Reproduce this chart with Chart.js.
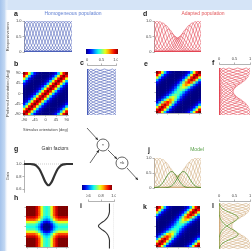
<!DOCTYPE html>
<html>
<head>
<meta charset="utf-8">
<script src="https://cdn.jsdelivr.net/npm/chart.js@4.4.0/dist/chart.umd.min.js"></script>
<style>
body{margin:0;width:252px;height:251px;overflow:hidden;background:#fff;position:relative}
canvas{position:absolute}
</style>
</head>
<body>
<canvas id="deco" width="252" height="251" style="left:0;top:0"></canvas>
<script>
// orientation grid (deg), 11.25 deg steps
const stimDeg = [-90,-78.75,-67.5,-56.25,-45,-33.75,-22.5,-11.25,0,11.25,22.5,33.75,45,56.25,67.5,78.75,90];
const prefDeg = [-90,-78.75,-67.5,-56.25,-45,-33.75,-22.5,-11.25,0,11.25,22.5,33.75,45,56.25,67.5,78.75];
// response vs |pref - stim| (0, 11.25, 22.5 ... 90 deg)
const tuningProfile = [1, 0.88, 0.6, 0.32, 0.13, 0.045, 0.012, 0.003, 0];
// peak gain of each neuron (indexed like stimDeg)
const homogGain = [1,1,1,1,1,1,1,1,1,1,1,1,1,1,1,1,1];
const adaptGain = [1,1,0.98,0.94,0.86,0.74,0.6,0.5,0.46,0.5,0.6,0.74,0.86,0.94,0.98,1,1];
const modelGain = [1,1,0.99,0.95,0.85,0.7,0.55,0.45,0.42,0.45,0.55,0.7,0.85,0.95,0.99,1,1];
const gainFactors = [1,1,1,0.995,0.975,0.92,0.82,0.71,0.66,0.71,0.82,0.92,0.975,0.995,1,1,1];
const hGain = [1,1,1,1,0.97,0.92,0.84,0.78,0.76,0.78,0.84,0.92,0.97,1,1,1,1];
const iCurve = [0.93,0.93,0.93,0.93,0.92,0.9,0.86,0.8,0.76,0.8,0.86,0.9,0.92,0.93,0.93,0.93,0.93];
const modelHighlight = [6, 10];

const degTicks = [-90,-45,0,45,90];
const degLabels = ['-90','-45','0','45','90'];

Chart.defaults.font.family = '"Liberation Sans", Arial, sans-serif';
Chart.defaults.font.size = 4;
Chart.defaults.color = '#444';

function jet(v, lo, hi) {
  const t = Math.min(1, Math.max(0, (v - lo) / (hi - lo)));
  const f = k => Math.round(255 * Math.min(1, Math.max(0, 1.5 - Math.abs(4 * t - k))));
  return 'rgb(' + f(3) + ',' + f(2) + ',' + f(1) + ')';
}

function resp(p, s) {
  const d = ((p - s) % 180 + 270) % 180 - 90;
  return tuningProfile[Math.round(Math.abs(d) / 11.25)];
}

function scale(o) {
  const vis = !!o.labels || !!o.marks;
  return {
    type: 'linear', position: o.pos, min: o.min, max: o.max,
    afterFit: sc => {
      if (sc.isHorizontal()) sc.height = o.size; else sc.width = o.size;
      sc.paddingLeft = sc.paddingRight = sc.paddingTop = sc.paddingBottom = 0;
    },
    afterBuildTicks: sc => { sc.ticks = (o.ticks || [o.min, o.max]).map(v => ({value: v})); },
    ticks: { display: !!o.labels, autoSkip: false, maxRotation: 0, padding: 1,
      callback: (v, i) => o.labels ? o.labels[i] : '' },
    grid: { display: vis, drawOnChartArea: false, tickLength: 1.5, color: '#666', lineWidth: 0.5 },
    border: { display: vis, color: '#666', width: 0.5 },
    title: { display: !!o.title, text: o.title, padding: 0, font: {size: 4} }
  };
}

function mk(box, m, datasets, xs, ys) {
  const [x0, y0, x1, y1] = box, [l, t, r, b] = m;
  const cv = document.createElement('canvas');
  cv.width = x1 - x0 + l + r; cv.height = y1 - y0 + t + b;
  cv.style.width = cv.width + 'px'; cv.style.height = cv.height + 'px';
  cv.style.left = (x0 - l) + 'px'; cv.style.top = (y0 - t) + 'px';
  document.body.appendChild(cv);
  const xTop = xs.pos === 'top';
  xs.size = xTop ? t : b; ys.size = l;
  return new Chart(cv, {
    type: 'scatter',
    data: { datasets },
    options: {
      responsive: false, animation: false, devicePixelRatio: 1, events: [],
      layout: { padding: { left: 0, right: r, top: xTop ? 0 : t, bottom: xTop ? b : 0 } },
      plugins: { legend: {display: false}, tooltip: {enabled: false} },
      scales: { x: scale(xs), y: scale(ys) }
    }
  });
}

function line(data, color, w, mono) {
  return { data, showLine: true, pointRadius: 0, borderColor: color, borderWidth: w,
    tension: 0.4, cubicInterpolationMode: mono ? 'monotone' : 'default' };
}

// tuning curves vs stimulus orientation
function tuningSets(gain, color, hl, hlColor) {
  const sets = prefDeg.map((p, i) => line(stimDeg.map(s => ({x: s, y: gain[i] * resp(p, s)})),
    hl && hl.includes(i) ? hlColor : color, hl && hl.includes(i) ? 0.9 : 0.55, true));
  return sets.sort((a, b) => (b.borderColor === hlColor) - (a.borderColor === hlColor));
}
// population responses vs preferred orientation (rotated)
function popSets(gain, color, hl, hlColor) {
  const sets = prefDeg.map((s, i) => line(stimDeg.map((p, pi) => ({x: gain[pi] * resp(p, s), y: p})),
    hl && hl.includes(i) ? hlColor : color, hl && hl.includes(i) ? 0.9 : 0.55, false));
  return sets.sort((a, b) => (b.borderColor === hlColor) - (a.borderColor === hlColor));
}
function heat(valFn, lo, hi) {
  const data = stimDeg.flatMap((p, pi) => stimDeg.map((s, si) => ({x: s, y: p, v: valFn(pi, si)})));
  return [{ data, pointStyle: 'rect', pointRadius: 2.25, borderWidth: 0,
    backgroundColor: c => jet(c.raw ? c.raw.v : 0, lo, hi) }];
}

const ax = {min: -90, max: 90};
const hx = {min: -95.625, max: 95.625};
const respTicks = {ticks: [0, 0.5, 1]};

// a
mk([24,21,72,52], [19,3,1,2], tuningSets(homogGain, '#3d52b4'),
  {pos: 'bottom', ...ax}, {pos: 'left', min: 0, max: 1, ...respTicks, labels: ['0','0.5','1.0'], title: 'Responsiveness'});
// b
mk([23,69,71,115], [18,1,1,17], heat((pi, si) => homogGain[pi] * resp(stimDeg[pi], stimDeg[si]), 0, 1),
  {pos: 'bottom', ...hx, ticks: degTicks, labels: degLabels, title: 'Stimulus orientation (deg)'},
  {pos: 'left', ...hx, ticks: degTicks, labels: degLabels, title: 'Preferred orientation (deg)'});
// c
mk([87,65,116,115], [1,8,2,1], popSets(homogGain, '#3d52b4'),
  {pos: 'top', min: 0, max: 1, ...respTicks, labels: ['0','0.5','1.0']}, {pos: 'left', min: -90, max: 105.65});
// d
mk([154,21,201,52], [14,3,1,2], tuningSets(adaptGain, '#e23a4a'),
  {pos: 'bottom', ...ax}, {pos: 'left', min: 0, max: 1, ...respTicks, labels: ['0','0.5','1.0']});
// e
mk([154,68,203,115], [2,1,2,2], heat((pi, si) => adaptGain[pi] * resp(stimDeg[pi], stimDeg[si]), 0, 1),
  {pos: 'bottom', ...hx, ticks: degTicks, marks: true}, {pos: 'left', ...hx, ticks: degTicks, marks: true});
// f
mk([219,64,250,115], [3,8,2,1], popSets(adaptGain, '#e23a4a'),
  {pos: 'top', min: 0, max: 1, ...respTicks, labels: ['0','0.5','1']}, {pos: 'left', min: -90, max: 105.3});
// g
mk([24,160,73,192], [19,3,1,1], [
  line(stimDeg.map((s, i) => ({x: s, y: gainFactors[i]})), '#333', 2.2, true),
  Object.assign(line(stimDeg.map(s => ({x: s, y: 1})), '#aaa', 0.6, true), {borderDash: [1, 1]})
], {pos: 'bottom', ...ax}, {pos: 'left', min: 0.552, max: 1.064, ticks: [0.6, 0.8, 1], labels: ['0.6','0.8','1.0'], title: 'Gain'});
// h
mk([23,203,71,251], [1,1,1,0], heat((pi, si) => hGain[pi] * hGain[si], 0.6, 1),
  {pos: 'bottom', ...hx, ticks: degTicks, marks: true}, {pos: 'left', ...hx, ticks: degTicks, marks: true});
// i
mk([88,201,114,251], [2,8,2,0], [
  line(stimDeg.map((p, i) => ({x: iCurve[i], y: p})), '#333', 1.1, false),
  Object.assign(line(stimDeg.map(p => ({x: 1, y: p})), '#aaa', 0.6, false), {borderDash: [1, 1]})
], {pos: 'top', min: 0.6, max: 1, ticks: [0.6, 0.8, 1], labels: ['0.6','0.8','1.0']}, {pos: 'left', min: -99.6, max: 99.6});
// j
mk([154,158,201,188], [14,3,1,2], tuningSets(modelGain, '#cfa878', modelHighlight, '#4f8a2a'),
  {pos: 'bottom', ...ax}, {pos: 'left', min: 0, max: 1, ...respTicks, labels: ['0','0.5','1.0']});
// k
mk([154,203,202,251], [2,1,2,0], heat((pi, si) => modelGain[pi] * resp(stimDeg[pi], stimDeg[si]), 0, 1),
  {pos: 'bottom', ...hx, ticks: degTicks, marks: true}, {pos: 'left', ...hx, ticks: degTicks, marks: true});
// l
mk([219,201,250,251], [3,8,2,0], popSets(modelGain, '#cfa878', modelHighlight, '#6f9a3a'),
  {pos: 'top', min: 0, max: 1, ...respTicks, labels: ['0','0.5','1']}, {pos: 'left', min: -99.6, max: 99.6});

// frame, labels, colour bars, diagram
const g = document.getElementById('deco').getContext('2d');
g.fillStyle = '#d5e4f7';
g.fillRect(0, 0, 252, 10);
const strip = g.createLinearGradient(0, 0, 8, 0);
strip.addColorStop(0, '#a4c3ec');
strip.addColorStop(0.6, '#c4d9f3');
strip.addColorStop(1, 'rgba(255,255,255,0)');
g.fillStyle = strip;
g.fillRect(0, 0, 8, 251);

g.textBaseline = 'middle';
g.fillStyle = '#222';
g.font = 'bold 7px "Liberation Sans", Arial, sans-serif';
[['a',14,14],['b',14,64],['c',80,63],['d',143,14],['e',144,64],['f',212,63],
 ['g',14,149],['h',14,198],['i',80,206],['j',148,150],['k',143,207],['l',212,206]]
  .forEach(([t, x, y]) => g.fillText(t, x, y));

g.font = '5px "Liberation Sans", Arial, sans-serif';
g.textAlign = 'center';
[['Homogeneous population',73,14,'#5f7fd2'],['Adapted population',203,14,'#e2585c'],
 ['Gain factors',55,149,'#333'],['Model',197,150,'#58a048']]
  .forEach(([t, x, y, c]) => { g.fillStyle = c; g.fillText(t, x, y); });

function bar(x, y, w, h) {
  const gr = g.createLinearGradient(x, 0, x + w, 0);
  for (let k = 0; k <= 10; k++) gr.addColorStop(k / 10, jet(k / 10, 0, 1));
  g.fillStyle = gr;
  g.fillRect(x, y, w, h);
}
bar(86, 49, 32, 5);
bar(82, 185, 30, 5);

g.strokeStyle = '#222';
g.fillStyle = '#222';
g.lineWidth = 0.7;
function arrow(x1, y1, x2, y2) {
  g.beginPath(); g.moveTo(x1, y1); g.lineTo(x2, y2); g.stroke();
  const a = Math.atan2(y2 - y1, x2 - x1);
  g.beginPath(); g.moveTo(x2, y2);
  g.lineTo(x2 - 3 * Math.cos(a - 0.45), y2 - 3 * Math.sin(a - 0.45));
  g.lineTo(x2 - 3 * Math.cos(a + 0.45), y2 - 3 * Math.sin(a + 0.45));
  g.closePath(); g.fill();
}
g.beginPath(); g.arc(103, 145, 6, 0, 2 * Math.PI); g.stroke();
g.beginPath(); g.arc(122, 163, 6, 0, 2 * Math.PI); g.stroke();
g.font = '4px "Liberation Sans", Arial, sans-serif';
g.fillText('\u00d7', 103, 145);
g.fillText('\u00d7k', 122, 163);
arrow(87, 128, 98, 140);
arrow(90, 163, 99, 150);
arrow(108, 150, 117, 159);
arrow(127, 168, 138, 180);
</script>
</body>
</html>
